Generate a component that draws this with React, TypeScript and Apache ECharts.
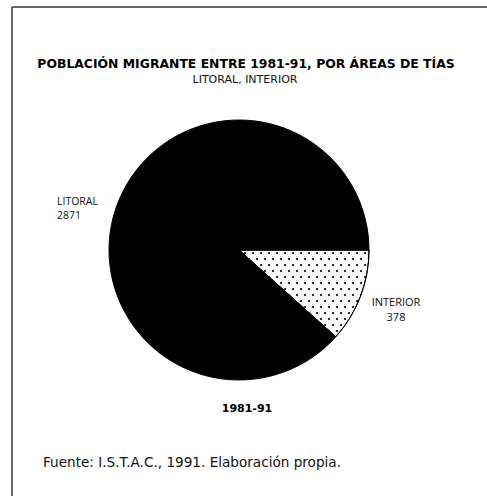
import React, { useEffect, useRef } from "react";
import * as echarts from "echarts";

const categories = ["INTERIOR", "LITORAL"];
const values = [378, 2871];
const titleText = "POBLACIÓN MIGRANTE ENTRE 1981-91, POR ÁREAS DE TÍAS";
const subtitleText = "LITORAL, INTERIOR";
const periodText = "1981-91";
const sourceText = "Fuente: I.S.T.A.C., 1991. Elaboración propia.";

const FONT = "'Open Sans', 'Noto Sans', sans-serif";
const WIDE = "'DejaVu Sans', sans-serif";

export default function App() {
  const ref = useRef<HTMLDivElement>(null);
  useEffect(() => {
    if (!ref.current) return;
    const chart = echarts.init(ref.current, undefined, { renderer: "svg" });
    const data = categories.map((name, i) => {
      const isInterior = name === "INTERIOR";
      return {
        name,
        value: values[i],
        itemStyle: isInterior
          ? {
              color: "#ffffff",
              borderColor: "#000",
              borderWidth: 1,
              decal: {
                symbol: "circle",
                symbolSize: 1,
                color: "#000",
                dashArrayX: [[2, 6], [0, 4, 2, 2]],
                dashArrayY: [2, 4],
                rotation: 0,
              },
            }
          : { color: "#000", borderColor: "#000", borderWidth: 1 },
        label: isInterior
          ? {
              formatter: "{a|{b}}\n{a|{c}}",
              padding: [20, 0, 0, 0],
              rich: { a: { width: 50, align: "center", fontFamily: FONT, fontSize: 11, color: "#111", lineHeight: 15 } },
            }
          : {
              formatter: "{a|{b}}\n{a|{c}}",
              padding: [14, 10, 0, 0],
              rich: { a: { width: 40, align: "left", fontFamily: FONT, fontSize: 10.5, color: "#111", lineHeight: 14 } },
            },
      };
    });
    chart.setOption({
      animation: false,
      backgroundColor: "#fff",
      graphic: [
        { type: "line", shape: { x1: 12, y1: 7, x2: 487, y2: 7 }, style: { stroke: "#333", lineWidth: 1.5 } },
        { type: "line", shape: { x1: 12, y1: 7, x2: 12, y2: 496 }, style: { stroke: "#333", lineWidth: 1.5 } },
        { type: "text", x: 246, y: 63, style: { text: titleText, font: `bold 12.4px ${WIDE}`, fill: "#000", textAlign: "center", textVerticalAlign: "middle" } },
        { type: "text", x: 245, y: 79, style: { text: subtitleText, font: `11px ${WIDE}`, fill: "#111", textAlign: "center", textVerticalAlign: "middle" } },
        { type: "text", x: 247, y: 408, style: { text: periodText, font: `bold 11px ${WIDE}`, fill: "#000", textAlign: "center", textVerticalAlign: "middle" } },
        { type: "text", x: 43, y: 462, style: { text: sourceText, font: `13.6px ${WIDE}`, fill: "#111", textAlign: "left", textVerticalAlign: "middle" } },
      ],
      series: [
        {
          type: "pie",
          center: [239, 250],
          radius: 130,
          startAngle: 0,
          clockwise: true,
          avoidLabelOverlap: false,
          label: { show: true, position: "outside" },
          labelLine: { show: false, length: 6, length2: 0 },
          emphasis: { disabled: true },
          data,
        },
      ],
    });
    return () => chart.dispose();
  }, []);
  return <div ref={ref} style={{ position: "fixed", left: 0, top: 0, width: 487, height: 496 }} />;
}
